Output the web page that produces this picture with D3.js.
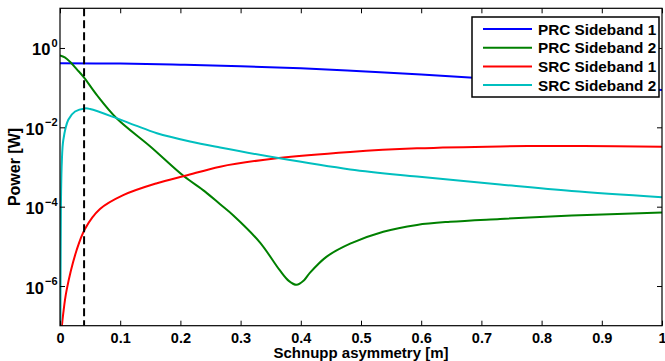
<!DOCTYPE html>
<html>
<head>
<meta charset="utf-8">
<script src="https://cdn.jsdelivr.net/npm/d3@7"></script>
<style>
  body { margin: 0; background: #fff; }
  text { font-family: "Liberation Sans", Arial, Helvetica, sans-serif; font-weight: bold; }
</style>
</head>
<body>
<div class="chart"></div>
<script>
/* data */
var prc1_x = [0, 0.1, 0.2, 0.3, 0.4, 0.5, 0.6, 0.7, 0.8, 0.9, 1.0];
var prc1_p = [0.411, 0.405, 0.380, 0.347, 0.309, 0.260, 0.216, 0.172, 0.138, 0.110, 0.087];

var prc2_x = [0, 0.008, 0.0166, 0.028, 0.04, 0.061, 0.094, 0.15, 0.205, 0.241, 0.266, 0.288, 0.332,
              0.365, 0.38, 0.393, 0.405, 0.415, 0.443, 0.482, 0.537, 0.593, 0.648, 0.731, 0.85, 1.0];
var prc2_p = [6.5e-1, 5.8e-1, 4.5e-1, 2.9e-1, 1.8e-1, 6.6e-2, 1.7e-2, 3.3e-3, 6.0e-4, 2.4e-4, 1.15e-4, 6.0e-5, 1.26e-5,
              2.5e-6, 1.35e-6, 1.07e-6, 1.38e-6, 2.14e-6, 5.5e-6, 1.17e-5, 2.34e-5, 3.47e-5, 4.17e-5, 4.9e-5, 6.0e-5, 7.1e-5];

var src1_x = [0.001, 0.002, 0.0055, 0.011, 0.0277, 0.0415, 0.0664, 0.105, 0.161, 0.208, 0.266, 0.36, 0.482, 0.593, 0.731, 0.869, 1.0];
var src1_p = [1e-8, 6e-8, 2.1e-7, 7.9e-7, 8.1e-6, 2.75e-5, 8.7e-5, 1.95e-4, 3.9e-4, 6.0e-4, 1.02e-3, 1.66e-3, 2.4e-3, 2.95e-3, 3.3e-3, 3.4e-3, 3.25e-3];

var src2_x = [0, 0.0005, 0.0015, 0.003, 0.0055, 0.0138, 0.025, 0.0415, 0.05, 0.094, 0.125, 0.161, 0.216, 0.266, 0.36, 0.482, 0.593, 0.731, 0.85, 1.0];
var src2_p = [1e-9, 1e-8, 1e-4, 1.3e-3, 4.8e-3, 1.55e-2, 2.5e-2, 3.0e-2, 2.9e-2, 1.7e-2, 1.12e-2, 7.1e-3, 4.4e-3, 3.1e-3, 1.7e-3, 8.7e-4, 5.75e-4, 3.63e-4, 2.5e-4, 1.74e-4];

var series_names = ["PRC Sideband 1", "PRC Sideband 2", "SRC Sideband 1", "SRC Sideband 2"];
var series_colors = ["#0000ff", "#008000", "#ff0000", "#00bfbf"];

var x_ticks = [0, 0.1, 0.2, 0.3, 0.4, 0.5, 0.6, 0.7, 0.8, 0.9, 1];
var y_ticks = [1e-6, 1e-4, 1e-2, 1e0];
var y_exps = ["\u22126", "\u22124", "\u22122", "0"];
var schnupp_mark = 0.04;

var W = 665, H = 361;
var pLeft = 60, pRight = 662, pTop = 8.3, pBottom = 325.7;

var svg = d3.select(".chart").append("svg")
    .attr("width", W)
    .attr("height", H);

var x = d3.scaleLinear().domain([0, 1]).range([pLeft, pRight]);
var y = d3.scaleLog().domain([1e-7, 10]).range([pBottom, pTop]);

svg.append("defs").append("clipPath")
    .attr("id", "plotclip")
  .append("rect")
    .attr("x", pLeft).attr("y", pTop)
    .attr("width", pRight - pLeft).attr("height", pBottom - pTop);

/* curves */
var line = d3.line()
    .x(function(d) { return x(d[0]); })
    .y(function(d) { return y(d[1]); })
    .curve(d3.curveCatmullRom.alpha(0.5));

var all_series = [
  d3.zip(prc1_x, prc1_p),
  d3.zip(prc2_x, prc2_p),
  d3.zip(src1_x, src1_p),
  d3.zip(src2_x, src2_p)
];

var gLines = svg.append("g").attr("clip-path", "url(#plotclip)");

gLines.selectAll("path")
    .data(all_series)
    .enter()
    .append("path")
    .attr("d", line)
    .attr("fill", "none")
    .attr("stroke", function(d, i) { return series_colors[i]; })
    .attr("stroke-width", 2);

/* dashed marker */
gLines.append("line")
    .attr("x1", x(schnupp_mark)).attr("x2", x(schnupp_mark))
    .attr("y1", pTop).attr("y2", pBottom)
    .attr("stroke", "#000")
    .attr("stroke-width", 2)
    .attr("stroke-dasharray", "8,4");

/* axes, ticks inward */
svg.append("g")
    .attr("transform", "translate(0," + pBottom + ")")
    .call(d3.axisBottom(x).tickValues(x_ticks).tickSizeInner(-5).tickSizeOuter(0).tickPadding(7)
      .tickFormat(function(d) { return d === 0 || d === 1 ? d3.format("d")(d) : d3.format(".1f")(d); }))
    .call(function(g) {
      g.select(".domain").remove();
      g.selectAll("text").attr("font-size", 14.5).attr("font-family", null).attr("fill", "#000");
    });

svg.append("g")
    .attr("transform", "translate(0," + pTop + ")")
    .call(d3.axisTop(x).tickValues(x_ticks).tickSizeInner(-5).tickSizeOuter(0).tickFormat(""))
    .call(function(g) { g.select(".domain").remove(); });

svg.append("g")
    .attr("transform", "translate(" + pLeft + ",0)")
    .call(d3.axisLeft(y).tickValues(y_ticks).tickSizeInner(-5).tickSizeOuter(0).tickFormat(""))
    .call(function(g) { g.select(".domain").remove(); });

svg.append("g")
    .attr("transform", "translate(" + pRight + ",0)")
    .call(d3.axisRight(y).tickValues(y_ticks).tickSizeInner(-5).tickSizeOuter(0).tickFormat(""))
    .call(function(g) { g.select(".domain").remove(); });

/* y tick labels 10^n */
var ylab = svg.append("g").selectAll("text")
    .data(y_ticks)
    .enter()
    .append("text")
    .attr("x", 57.5)
    .attr("y", function(d) { return y(d) + 7.5; })
    .attr("text-anchor", "end")
    .attr("font-size", 16.5);
ylab.append("tspan").text("10");
ylab.append("tspan")
    .attr("font-size", 11)
    .attr("dx", 1)
    .attr("dy", -8.5)
    .text(function(d, i) { return y_exps[i]; });

/* frame */
svg.append("rect")
    .attr("x", pLeft).attr("y", pTop)
    .attr("width", pRight - pLeft).attr("height", pBottom - pTop)
    .attr("fill", "none")
    .attr("stroke", "#000")
    .attr("stroke-width", 1.2);

/* axis titles */
svg.append("text")
    .attr("x", (pLeft + pRight) / 2)
    .attr("y", 358)
    .attr("text-anchor", "middle")
    .attr("font-size", 15)
    .text("Schnupp asymmetry [m]");

svg.append("text")
    .attr("transform", "translate(20," + ((pTop + pBottom) / 2) + ") rotate(-90)")
    .attr("text-anchor", "middle")
    .attr("font-size", 16)
    .text("Power [W]");

/* legend */
var legend = svg.append("g");
legend.append("rect")
    .attr("x", 472).attr("y", 17)
    .attr("width", 187).attr("height", 80)
    .attr("fill", "#fff")
    .attr("stroke", "#000")
    .attr("stroke-width", 1.5);

var items = legend.selectAll(".item")
    .data(series_names)
    .enter()
    .append("g")
    .attr("transform", function(d, i) { return "translate(0," + (29 + i * 18.7) + ")"; });

items.append("line")
    .attr("x1", 483).attr("x2", 532)
    .attr("stroke", function(d, i) { return series_colors[i]; })
    .attr("stroke-width", 2);

items.append("text")
    .attr("x", 538)
    .attr("y", 5.5)
    .attr("font-size", 15.3)
    .text(function(d) { return d; });
</script>
</body>
</html>
